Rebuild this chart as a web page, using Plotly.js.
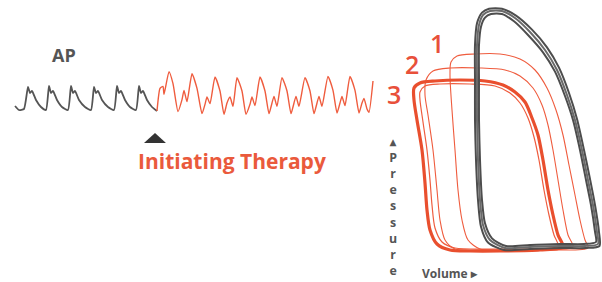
<!DOCTYPE html>
<html>
<head>
<meta charset="utf-8">
<script src="https://cdn.plot.ly/plotly-3.0.1.min.js"></script>
<style>html,body{margin:0;padding:0;background:#fff;}#chart{width:602px;height:282px;}</style>
</head>
<body>
<div id="chart"></div>
<script>
// ---- Arterial pressure (AP) trace: time (s) and pressure (mmHg) ----
const apTimeBaseline = [0,0.16,0.36,0.52,0.6,0.68,0.84,1.04,1.24,1.36,1.44,1.52,1.68,1.88,2.12,2.24,2.32,2.4,2.56,2.8,3.04,3.16,3.24,3.32,3.48,3.72,3.96,4.08,4.16,4.24,4.4,4.6,4.84,4.96,5.04,5.12,5.28,5.48,5.68];
const apBaseline     = [70.5,64.5,66,99,90,93,79.5,69,64.5,100.5,90,93,79.5,69,64.5,100.5,90,93,79.5,69,64.5,99,90,93,79.5,69,64.5,100.5,90,93,79.5,69,64.5,100.5,90,93,79.5,69,63];

const apTimeTherapy = [5.68,5.8,5.92,5.96,6.16,6.32,6.52,6.68,6.76,6.88,7.08,7.28,7.48,7.6,7.68,7.8,8.0,8.2,8.36,8.48,8.6,8.72,8.88,9.08,9.24,9.4,9.48,9.6,9.8,10.0,10.16,10.28,10.36,10.48,10.68,10.88,11.04,11.16,11.24,11.36,11.6,11.8,11.96,12.08,12.16,12.28,12.52,12.72,12.88,13.0,13.08,13.2,13.4,13.6,13.76,13.88,13.96,14.08,14.16,14.32];
const apTherapy     = [63,97,100,88,122,104,62,80,94,77,119,97,59,73,84,74,114,93,58,75,84,70,113,93,58,73,84,71,114,93,59,75,85,70,113,93,59,75,85,70,113,93,59,75,85,70,115,94,60,75,85,71,115,94,60,75,82,66,61,108];

// ---- Pressure-volume loops: volume (mL) and pressure (mmHg) ----
const pvBaseV1 = [145,170,200,225,238,237,233,228,222,215,207,197,185,170,155,142,130,123,119,117,117,117,118,120,123,130,145];
const pvBaseP1 = [4.2,4.8,5.4,5.4,6.6,13.8,30,45,63,81,96,111,123,133.8,142.2,146.4,146.4,144,138,126,105,81,57,33,18,9,4.2];
const pvBaseV2 = [146,170,200,224,236,235,231,226,220,213,205,195,183,168,154,142,131,125,121,119,119,119,120,122,125,132,146];
const pvBaseP2 = [5.4,6,6.6,6.6,7.8,14,30,45,63,81,95.4,110,121.6,132,140.2,144.6,144.6,142.4,137,126,105,81,57,33,19,10,5.4];
const pvBaseV3 = [144,170,200,226,239.5,239,235,230,224,217,209,199,187,172,156,142,129,122,117,115,115,115,116,118,121,128,144];
const pvBaseP3 = [3,3.6,4.2,4.2,5.4,13.8,30,45.6,63,81.6,97.2,112.4,124.6,135.2,143.6,147.8,147.8,145.4,139,126,105,81,57,33,17,7.5,3];

const pvLoop1V = [140,120,108,102,98,95,92,90,91,97,115,140,160,175,187,196,203,209,215,220,225,228,190,140];
const pvLoop1P = [3,3.6,9,21,39,63,87,108,115.8,119.4,120.6,120.6,117.6,111,100.2,87,72,54,36,21,9,4.2,3,3];
const pvLoop2V = [130,95,85,80,77,73,68,65,66,73,90,120,145,160,173,182,188,193,198,203,208,213,180,130];
const pvLoop2P = [3,3.6,9,21,39,63,84,96,105,110.4,112.2,112.2,111,107.4,100.2,90,78,63,45,27,12,4.8,3,3];
const pvLoop3V = [140,110,90,77,70,67,65,62,57,54,54,60,75,100,125,143,155,165,172,178,183,188,193,198,203,180,140];
const pvLoop3P = [2.4,2.4,3,6.6,15,27,43.2,63,81,93,100.2,103.2,104.4,105,104.4,102,97.8,91.8,82.2,72,57,39,24,12,4.8,3,2.4];
const pvLoop3bV = [140,95,82,75,72,70,67,63,60,60,65,80,110,135,150,160,168,174,179,184,189,194,198,170,140];
const pvLoop3bP = [3.6,4.2,7.8,16.2,30,45,63,79.8,93,97.8,101.4,102.6,102.6,101.4,97.2,91.2,82.2,70.8,57,39,24,12,5.4,3.6,3.6];

// ---- Labels ----
const apLabel = "AP";
const therapyLabel = "Initiating Therapy";
const loopLabels = ["1", "2", "3"];
const pressureLabel = "Pressure";
const volumeLabel = "Volume";

const GRAY = "#4d4d4d";
const RED = "#ef5c3e";
const REDT = "#e94f2e";

function line(x, y, color, width, xa, ya, smooth) {
  return {x: x, y: y, type: "scatter", mode: "lines", xaxis: xa, yaxis: ya,
    line: {color: color, width: width, shape: "spline", smoothing: smooth},
    hoverinfo: "skip", cliponaxis: false};
}

const traces = [
  line(apTimeBaseline, apBaseline, "#555555", 1.8, "x", "y", 0.5),
  line(apTimeTherapy, apTherapy, RED, 1.4, "x", "y", 0.5),
  line(pvLoop1V, pvLoop1P, RED, 1.1, "x2", "y2", 0.8),
  line(pvLoop2V, pvLoop2P, RED, 1.1, "x2", "y2", 0.8),
  line(pvLoop3bV, pvLoop3bP, RED, 1.2, "x2", "y2", 0.8),
  line(pvLoop3V, pvLoop3P, REDT, 3.2, "x2", "y2", 0.8),
  line(pvBaseV3, pvBaseP3, GRAY, 2.0, "x2", "y2", 0.7),
  line(pvBaseV1, pvBaseP1, "#6a6a6a", 2.0, "x2", "y2", 0.7),
  line(pvBaseV2, pvBaseP2, GRAY, 2.0, "x2", "y2", 0.7)
];

const hidden = {visible: false, fixedrange: true};
const layout = {
  width: 602, height: 282,
  margin: {l: 0, r: 0, t: 0, b: 0},
  paper_bgcolor: "#ffffff", plot_bgcolor: "rgba(0,0,0,0)",
  showlegend: false,
  xaxis: Object.assign({domain: [0.01661, 0.63123], range: [-0.2, 14.6]}, hidden),
  yaxis: Object.assign({domain: [0.57447, 0.78723], range: [49.5, 139.5]}, hidden),
  xaxis2: Object.assign({domain: [0.66445, 1], range: [40, 242], anchor: "y2"}, hidden),
  yaxis2: Object.assign({domain: [0.09574, 0.98227], range: [0, 150], anchor: "x2"}, hidden),
  shapes: [
    {type: "path", xref: "paper", yref: "paper",
     path: "M 0.2392 0.4929 L 0.2757 0.4929 L 0.2575 0.5284 Z",
     fillcolor: "#333333", line: {width: 0}}
  ],
  annotations: [
    {text: "<b>" + apLabel + "</b>", xref: "paper", yref: "paper", x: 0.1063, y: 0.805,
     showarrow: false, xanchor: "center", yanchor: "middle",
     font: {family: "Open Sans", size: 18, color: "#555555"}},
    {text: "<b>" + therapyLabel + "</b>", xref: "paper", yref: "paper", x: 0.3854, y: 0.428,
     showarrow: false, xanchor: "center", yanchor: "middle",
     font: {family: "Open Sans", size: 21, color: "#ea5a3c"}},
    {text: loopLabels[0], xref: "paper", yref: "paper", x: 0.7259, y: 0.8475,
     showarrow: false, xanchor: "center", yanchor: "middle",
     font: {family: "Open Sans", size: 25, weight: 600, color: "#e8503a"}},
    {text: loopLabels[1], xref: "paper", yref: "paper", x: 0.6844, y: 0.773,
     showarrow: false, xanchor: "center", yanchor: "middle",
     font: {family: "Open Sans", size: 25, weight: 600, color: "#e8503a"}},
    {text: loopLabels[2], xref: "paper", yref: "paper", x: 0.6545, y: 0.6667,
     showarrow: false, xanchor: "center", yanchor: "middle",
     font: {family: "Open Sans", size: 25, weight: 600, color: "#e8503a"}},
    {text: "<b>▴<br>" + pressureLabel.split("").join("<br>") + "</b>", xref: "paper", yref: "paper",
     x: 0.6528, y: 0.27, showarrow: false, xanchor: "center", yanchor: "middle",
     font: {family: "Open Sans", size: 12.4, color: "#555555"}},
    {text: "<b>" + volumeLabel + " ▸</b>", xref: "paper", yref: "paper", x: 0.7475, y: 0.03,
     showarrow: false, xanchor: "center", yanchor: "middle",
     font: {family: "Open Sans", size: 12, color: "#555555"}}
  ]
};

Plotly.newPlot("chart", traces, layout, {staticPlot: true, displayModeBar: false});
</script>
</body>
</html>
